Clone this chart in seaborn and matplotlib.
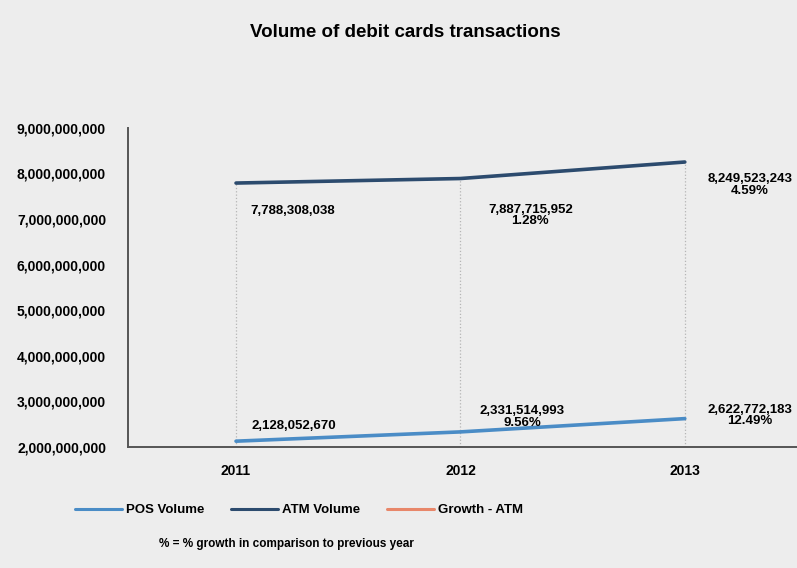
import seaborn as sns
import matplotlib.pyplot as plt
import pandas as pd
from matplotlib.lines import Line2D
from matplotlib.ticker import FuncFormatter

## Data
years = ['2011', '2012', '2013']
pos_volume = [2128052670, 2331514993, 2622772183]
atm_volume = [7788308038, 7887715952, 8249523243]
pos_growth = ['', '9.56%', '12.49%']
atm_growth = ['', '1.28%', '4.59%']

## Colors
color_pos = '#4a8cc6'
color_atm = '#2c4b6e'
color_growth = '#e8876a'
bg = '#ededed'

df = pd.DataFrame({'Year': years * 2,
                   'Volume': pos_volume + atm_volume,
                   'Series': ['POS Volume'] * 3 + ['ATM Volume'] * 3})
df['x'] = list(range(3)) * 2

sns.set_style("white")
plt.rcParams['font.family'] = ['Liberation Sans', 'DejaVu Sans']
plt.rcParams['font.weight'] = 'bold'
plt.rcParams['text.color'] = 'black'
plt.rcParams['xtick.color'] = 'black'
plt.rcParams['ytick.color'] = 'black'

fig = plt.figure(figsize=(7.97, 5.68), dpi=100, facecolor=bg)
ax = fig.add_axes([0.161, 0.213, 0.839, 0.562])
ax.set_facecolor(bg)

sns.lineplot(data=df, x='x', y='Volume', hue='Series',
             palette={'POS Volume': color_pos, 'ATM Volume': color_atm},
             linewidth=2.6, legend=False, ax=ax)

# dotted drop lines at each category
ax.vlines(range(3), 2e9, atm_volume, colors='#b5b5b5', linestyles=':', linewidth=0.9, zorder=0)

ax.set_xlim(-0.48, 2.5)
ax.set_ylim(2e9, 9e9)
ax.set_xticks(range(3))
ax.set_xticklabels(years)
ax.set_yticks([2e9, 3e9, 4e9, 5e9, 6e9, 7e9, 8e9, 9e9])
ax.yaxis.set_major_formatter(FuncFormatter(lambda v, p: '{:,.0f}'.format(v)))
ax.tick_params(axis='both', length=0, labelsize=10)
ax.tick_params(axis='x', pad=12)
ax.tick_params(axis='y', pad=16)
ax.set_xlabel('')
ax.set_ylabel('')
for s in ['top', 'right']:
    ax.spines[s].set_visible(False)
for s in ['left', 'bottom']:
    ax.spines[s].set_color('#555555')
    ax.spines[s].set_linewidth(1.4)

## Data labels
atm_offsets = [(57, -28), (70, -37), (65, -23)]
pos_offsets = [(58, 15), (62, 15), (65, 3)]
for i in range(3):
    txt = '{:,}'.format(atm_volume[i]) + ('\n' + atm_growth[i] if atm_growth[i] else '')
    ax.annotate(txt, (i, atm_volume[i]), xytext=atm_offsets[i], textcoords='offset pixels',
                ha='center', va='center', fontsize=9.5, fontweight='bold', linespacing=0.95)
    txt = '{:,}'.format(pos_volume[i]) + ('\n' + pos_growth[i] if pos_growth[i] else '')
    ax.annotate(txt, (i, pos_volume[i]), xytext=pos_offsets[i], textcoords='offset pixels',
                ha='center', va='center', fontsize=9.5, fontweight='bold', linespacing=0.95)

fig.text(0.508, 0.943, 'Volume of debit cards transactions', ha='center', va='center',
         fontsize=13.5, fontweight='bold')

handles = [Line2D([], [], color=color_pos, lw=2.2),
           Line2D([], [], color=color_atm, lw=2.2),
           Line2D([], [], color=color_growth, lw=2.2)]
fig.legend(handles, ['POS Volume', 'ATM Volume', 'Growth - ATM'], ncol=3,
           loc='center', bbox_to_anchor=(0.375, 0.102), frameon=False,
           handlelength=3.6, handletextpad=0.3, columnspacing=2.0, fontsize=9.5)

fig.text(0.36, 0.043, '% = % growth in comparison to previous year', ha='center', va='center',
         fontsize=8.5, fontweight='bold')

fig.savefig('out.png', dpi=100, facecolor=bg)
